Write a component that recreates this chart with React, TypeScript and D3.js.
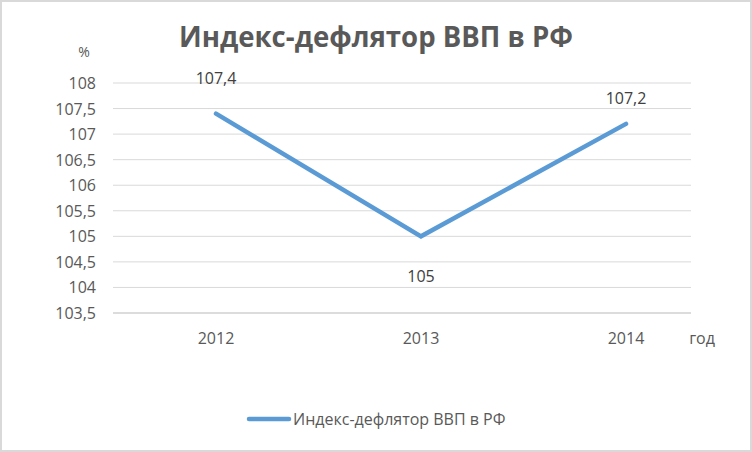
import React from "react";
import * as d3 from "d3";

const years = ["2012", "2013", "2014"];
const values = [107.4, 105, 107.2];
const yTicks = [103.5, 104, 104.5, 105, 105.5, 106, 106.5, 107, 107.5, 108];
const seriesName = "Индекс-дефлятор ВВП в РФ";
const titleText = "Индекс-дефлятор ВВП в РФ";

const W = 752;
const H = 452;
const font = "'Open Sans', 'Noto Sans', sans-serif";
const textColor = "#595959";
const lineColor = "#5b9bd5";

const fmt = (v: number) => String(v).replace(".", ",");

export default function App() {
  const x = d3.scalePoint<string>().domain(years).range([216, 626]);
  const y = d3.scaleLinear().domain([103.5, 108]).range([313, 83]);
  const line = d3
    .line<number>()
    .x((_, i) => x(years[i]) as number)
    .y((d) => y(d));
  const gridX0 = 113;
  const gridX1 = 691;
  const labelDy = [-36, 40, -26];

  return (
    <svg
      width={W}
      height={H}
      style={{ position: "absolute", left: 0, top: 0, display: "block" }}
    >
      <rect x={0} y={0} width={W} height={H} fill="#ffffff" />
      <rect x={1} y={1} width={W - 2} height={H - 2} fill="none" stroke="#d9d9d9" strokeWidth={2} />
      <text
        x={376}
        y={47}
        textAnchor="middle"
        fontFamily={font}
        fontWeight="bold"
        fontSize={28}
        fill={textColor}
        textLength={394}
        lengthAdjust="spacingAndGlyphs"
      >
        {titleText}
      </text>
      {yTicks.map((t, i) => (
        <line
          key={t}
          x1={gridX0}
          x2={gridX1}
          y1={y(t)}
          y2={y(t)}
          stroke={i === 0 ? "#d0d0d0" : "#d9d9d9"}
          strokeWidth={i === 0 ? 1.5 : 1}
        />
      ))}
      {yTicks.map((t) => (
        <text
          key={"l" + t}
          x={96}
          y={y(t) + 6}
          textAnchor="end"
          fontFamily={font}
          fontSize={16}
          fill={textColor}
        >
          {fmt(t)}
        </text>
      ))}
      <text x={84} y={57} textAnchor="middle" fontFamily={font} fontSize={14} fill={textColor}>
        %
      </text>
      {years.map((yr) => (
        <text
          key={yr}
          x={x(yr) as number}
          y={344}
          textAnchor="middle"
          fontFamily={font}
          fontSize={16}
          fill={textColor}
        >
          {yr}
        </text>
      ))}
      <text x={702} y={344} textAnchor="middle" fontFamily={font} fontSize={16} fill={textColor}>
        год
      </text>
      <path
        d={line(values) || ""}
        fill="none"
        stroke={lineColor}
        strokeWidth={4.5}
        strokeLinejoin="miter"
        strokeLinecap="round"
      />
      {values.map((v, i) => (
        <text
          key={"d" + i}
          x={x(years[i]) as number}
          y={y(v) + labelDy[i] + 6}
          textAnchor="middle"
          fontFamily={font}
          fontSize={16}
          fill="#404040"
        >
          {fmt(v)}
        </text>
      ))}
      <line x1={249} x2={289} y1={419} y2={419} stroke={lineColor} strokeWidth={4.5} strokeLinecap="round" />
      <text x={293} y={425} fontFamily={font} fontSize={16} fill={textColor}>
        {seriesName}
      </text>
    </svg>
  );
}
